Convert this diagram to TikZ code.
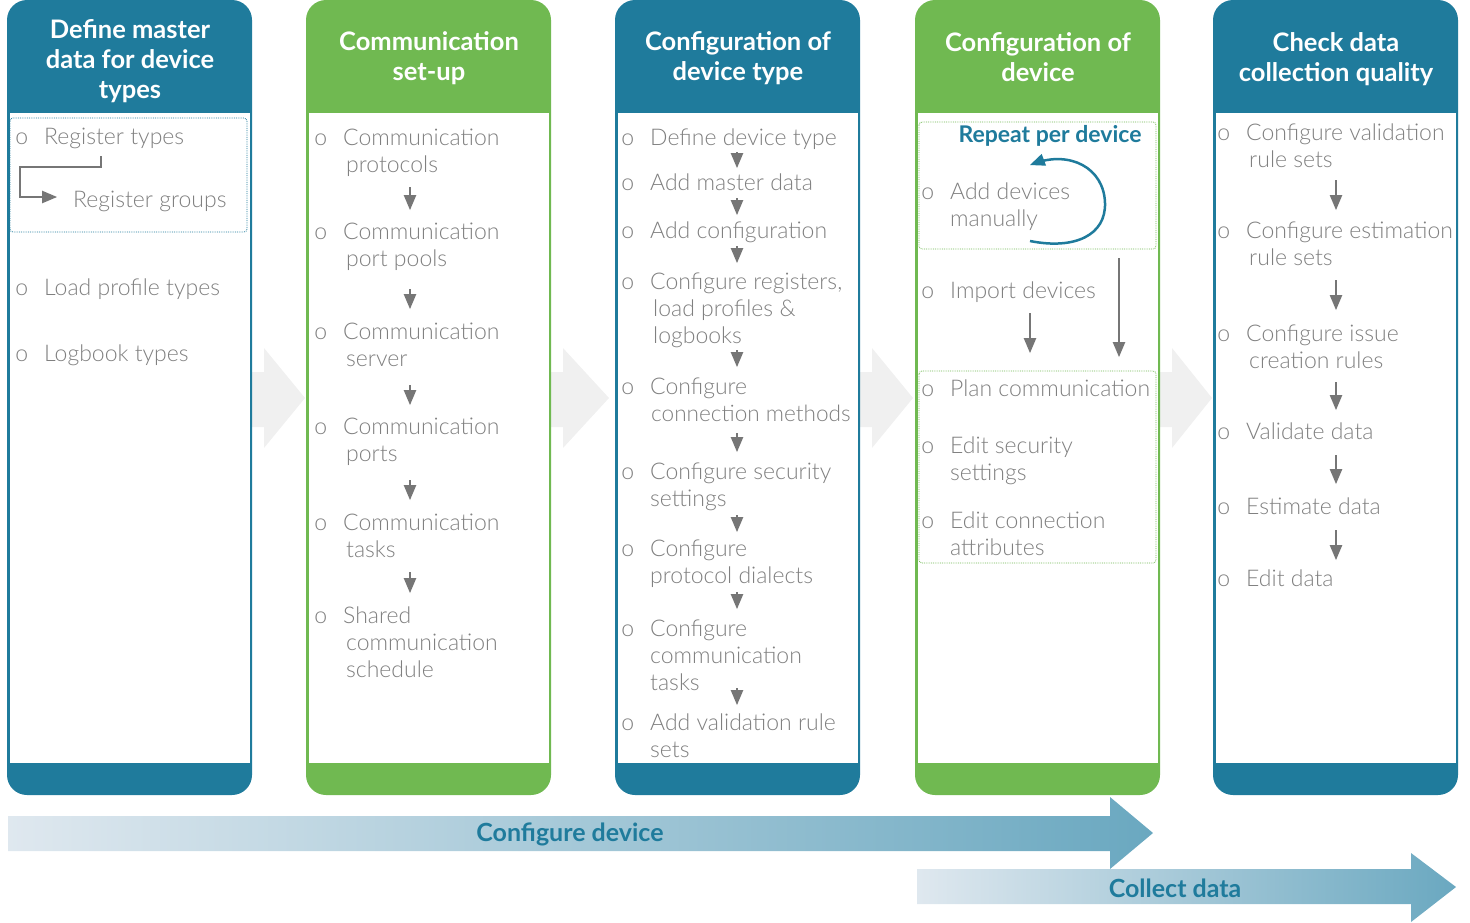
\documentclass[tikz,border=0pt]{standalone}
\usepackage{fontspec}
\setmainfont{Lato}
\newfontfamily\lightfont{Lato Light}
\usetikzlibrary{arrows}

\definecolor{tealblue}{RGB}{31,123,156}
\definecolor{leafgreen}{RGB}{112,185,81}
\definecolor{txtgray}{RGB}{128,128,128}
\definecolor{arrgray}{RGB}{118,118,118}
\definecolor{chevgray}{RGB}{240,240,240}
\definecolor{paleblue}{RGB}{223,232,239}
\definecolor{midblue}{RGB}{198,216,226}
\definecolor{deepblue}{RGB}{106,168,192}

\newcommand{\bul}{\llap{o\hspace{16pt}}}
\newcommand{\ind}{\hspace*{3pt}}

\begin{document}
\begin{tikzpicture}[x=1pt,y=-1pt,>=triangle 45,
  head/.style={text=white,align=center,font=\bfseries\fontsize{25.5}{30}\selectfont},
  txt/.style={anchor=north west,align=left,inner sep=0pt,text=txtgray,
    font=\lightfont\fontsize{23}{27}\selectfont},
  flow/.style={->,draw=arrgray,line width=2.5pt},
  dotbox/.style={densely dotted,line width=0.8pt,rounded corners=3pt},
  band/.style={text=tealblue,font=\bfseries\fontsize{25}{30}\selectfont}]

 \useasboundingbox (0,0) rectangle (1470,922);

 % grey chevrons behind the columns
 \foreach \xa/\xb in {252/306,551/610,860/914,1160/1213}
   \fill[chevgray] (\xa-20,372) -- (\xa+12,372) -- (\xa+12,348) -- (\xb-1,398)
     -- (\xa+12,448) -- (\xa+12,427) -- (\xa-20,427) -- cycle;

 % columns
 \fill[tealblue,rounded corners=20pt] (7,0) rectangle (252,795);
 \fill[white] (9.5,113) rectangle (249.5,763);
 \fill[leafgreen,rounded corners=20pt] (306,0) rectangle (551,795);
 \fill[white] (308.5,113) rectangle (548.5,763);
 \fill[tealblue,rounded corners=20pt] (615,0) rectangle (860,795);
 \fill[white] (617.5,113) rectangle (857.5,763);
 \fill[leafgreen,rounded corners=20pt] (915,0) rectangle (1160,795);
 \fill[white] (917.5,113) rectangle (1157.5,763);
 \fill[tealblue,rounded corners=20pt] (1213,0) rectangle (1458,795);
 \fill[white] (1215.5,113) rectangle (1455.5,763);

 \node[head] (h1) at (130,61) {Define master\\data for device\\types};
 \node[head] (h2) at (429,58) {Communication\\set-up};
 \node[head] (h3) at (738,58) {Configuration of\\device type};
 \node[head] (h4) at (1038,57) {Configuration of\\device};
 \node[head] (h5) at (1336,59) {Check data\\collection quality};

 % master data
 \draw[dotbox,tealblue] (10,118) rectangle (247,232);
 \node[txt] (rt) at (44,125) {\strut\bul Register types};
 \node[txt] (rg) at (73,188) {\strut Register groups};
 \node[txt] (lp) at (44,276) {\strut\bul Load profile types};
 \node[txt] (lb) at (44,342) {\strut\bul Logbook types};
 \coordinate (rts) at (101,156);
 \coordinate (rge) at (57,197);
 \draw[flow] (rts) |- (20,167) |- (rge);

 % communication set-up
 \node[txt] (cp1) at (343,126) {\strut\bul Communication\\\ind protocols};
 \node[txt] (cp2) at (343,220) {\strut\bul Communication\\\ind port pools};
 \node[txt] (cp3) at (343,320) {\strut\bul Communication\\\ind server};
 \node[txt] (cp4) at (343,415) {\strut\bul Communication\\\ind ports};
 \node[txt] (cp5) at (343,511) {\strut\bul Communication\\\ind tasks};
 \node[txt] (cp6) at (343,604) {\strut\bul Shared\\\ind communication\\\ind schedule};

 % device type
 \node[txt] (dt1) at (650,126) {\strut\bul Define device type};
 \node[txt] (dt2) at (650,171) {\strut\bul Add master data};
 \node[txt] (dt3) at (650,219) {\strut\bul Add configuration};
 \node[txt] (dt4) at (650,270) {\strut\bul Configure registers,\\\ind load profiles \&\\\ind logbooks};
 \node[txt] (dt5) at (650,375) {\strut\bul Configure\\\hspace*{1pt}{\fontsize{22.6}{27}\selectfont connection methods}};
 \node[txt] (dt6) at (650,460) {\strut\bul Configure security\\settings};
 \node[txt] (dt7) at (650,537) {\strut\bul Configure\\protocol dialects};
 \node[txt] (dt8) at (650,617) {\strut\bul Configure\\communication\\tasks};
 \node[txt] (dt9) at (650,711) {\strut\bul Add validation rule\\sets};

 % device
 \draw[dotbox,leafgreen] (919,122) rectangle (1156,249);
 \draw[dotbox,leafgreen] (919,371) rectangle (1156,563);
 \node[band,font=\bfseries\fontsize{23}{27}\selectfont] (rpd) at (1050,136) {Repeat per device};
 \node[txt] (dv1) at (950,180) {\strut\bul Add devices\\manually};
 \node[txt] (dv2) at (950,279) {\strut\bul Import devices};
 \node[txt] (dv3) at (950,377) {\strut\bul Plan communication};
 \node[txt] (dv4) at (950,434) {\strut\bul Edit security\\settings};
 \node[txt] (dv5) at (950,509) {\strut\bul Edit connection\\attributes};
 \coordinate (rps) at (1030,241);
 \coordinate (rpe) at (1030,165);
 \draw[->,tealblue,line width=2.5pt] (rps) .. controls (1075,250) and (1106,235) .. (1105,203)
   .. controls (1104,168) and (1070,150) .. (rpe);

 % data quality
 \node[txt] (q1) at (1246,121) {\strut\bul Configure validation\\\ind rule sets};
 \node[txt] (q2) at (1246,219) {\strut\bul Configure estimation\\\ind rule sets};
 \node[txt] (q3) at (1246,322) {\strut\bul Configure issue\\\ind creation rules};
 \node[txt] (q4) at (1246,420) {\strut\bul Validate data};
 \node[txt] (q5) at (1246,495) {\strut\bul Estimate data};
 \node[txt] (q6) at (1246,567) {\strut\bul Edit data};

 % small down arrows
 \foreach \n/\x/\ya/\yb in {c1/410/187/210,c2/410/289/309,c3/410/385/405,c4/410/480/500,c5/410/572/593,
   t1/737/152/168,t2/737/198/215,t3/737/246/263,t4/737/350/367,t5/737/433/452,t6/737/515/532,t7/737/592/609,t8/737/688/705,
   v1/1030/313/353,v2/1119/258/357,
   k1/1336/180/210,k2/1336/280/310,k3/1336/382/410,k4/1336/455/484,k5/1336/530/560}
 {
   \coordinate (\n s) at (\x,\ya);
   \coordinate (\n e) at (\x,\yb);
   \draw[flow] (\n s) -- (\n e);
 }

 % phase arrows
 \shade[left color=paleblue,middle color=midblue,right color=deepblue]
   (8,816) -- (1110,816) -- (1110,797) -- (1153,833) -- (1110,869) -- (1110,851) -- (8,851) -- cycle;
 \shade[left color=paleblue,middle color=midblue,right color=deepblue]
   (917,869) -- (1411,869) -- (1411,853) -- (1456,887) -- (1411,922) -- (1411,904) -- (917,904) -- cycle;
 \node[band] (cfg) at (570,834) {Configure device};
 \node[band] (col) at (1175,888) {Collect data};

\end{tikzpicture}
\end{document}
